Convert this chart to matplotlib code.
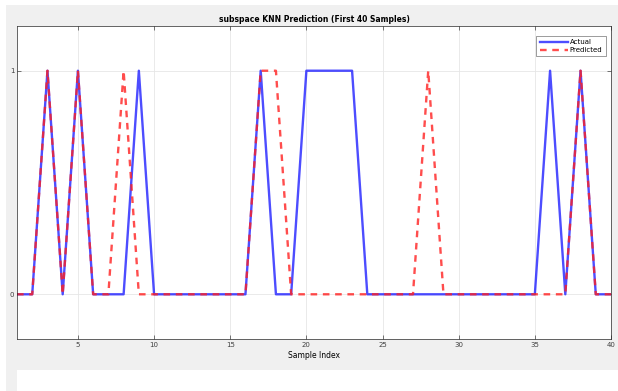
import matplotlib.pyplot as plt
from matplotlib.patches import Rectangle

# データ
sample_idx = list(range(1, 41))
actual = [0, 0, 1, 0, 1, 0, 0, 0, 1, 0,
          0, 0, 0, 0, 0, 0, 1, 0, 0, 1,
          1, 1, 1, 0, 0, 0, 0, 0, 0, 0,
          0, 0, 0, 0, 0, 1, 0, 1, 0, 0]
predicted = [0, 0, 1, 0, 1, 0, 0, 1, 0, 0,
             0, 0, 0, 0, 0, 0, 1, 1, 0, 0,
             0, 0, 0, 0, 0, 0, 0, 1, 0, 0,
             0, 0, 0, 0, 0, 0, 0, 1, 0, 0]
x_ticks = [5, 10, 15, 20, 25, 30, 35, 40]
y_ticks = [0, 1]

W, H = 618, 391
fig = plt.figure(figsize=(W / 100, H / 100), dpi=100, facecolor="white")

# MATLAB風の灰色背景（axesより後ろに）
bg = Rectangle((6 / W, 0), 1.01 - 6 / W, 1 - 5 / H, transform=fig.transFigure,
               facecolor="#f0f0f0", edgecolor="none", zorder=-10)
fig.add_artist(bg)

ax = fig.add_axes([17 / W, 1 - 339 / H, (611 - 17) / W, (339 - 26) / H])
ax.plot(sample_idx, actual, color="#2020ff", lw=1.7, alpha=0.8, label="Actual")
ax.plot(sample_idx, predicted, color="#ff2020", lw=1.7, ls=(0, (2.8, 2.4)),
        alpha=0.8, label="Predicted")

ax.set_xlim(1, 40)
ax.set_ylim(-0.2, 1.2)
ax.set_xticks(x_ticks)
ax.set_yticks(y_ticks)
ax.tick_params(direction="in", length=3, width=0.5, labelsize=5,
               colors="#404040", top=True, right=True, pad=2)
ax.grid(color="#e6e6e6", lw=0.6)
for s in ax.spines.values():
    s.set_color("#262626")
    s.set_linewidth(0.5)
ax.set_xlabel("Sample Index", fontsize=5.5, labelpad=2)
ax.set_title("subspace KNN Prediction (First 40 Samples)", fontsize=5.5,
             fontweight="bold", pad=3)
leg = ax.legend(loc="upper right", fontsize=5, frameon=True, fancybox=False,
                borderpad=0.5, handlelength=4, labelspacing=0.25,
                handletextpad=0.3, bbox_to_anchor=(0.997, 0.98))
leg.get_frame().set_edgecolor("#262626")
leg.get_frame().set_linewidth(0.4)

# 下のサブプロット（見切れ）
ax2 = fig.add_axes([17 / W, 0, 1 - 17 / W, (391 - 370) / H])
ax2.set_xticks([])
ax2.set_yticks([])
for s in ax2.spines.values():
    s.set_visible(False)

fig.savefig("out.png", dpi=100, facecolor=fig.get_facecolor())
